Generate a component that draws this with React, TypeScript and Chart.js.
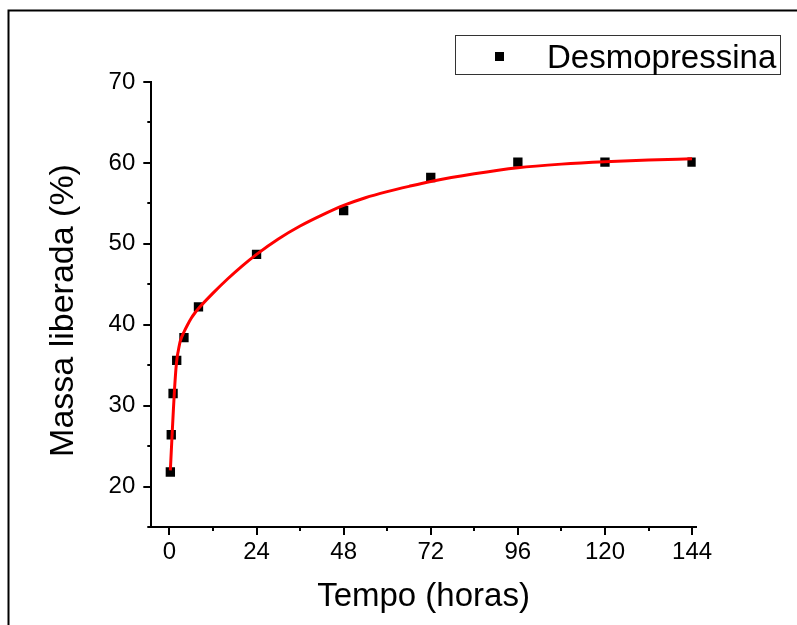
import React, { useEffect, useRef } from "react";
import { Chart, registerables } from "chart.js";

Chart.register(...registerables);

// Release time points (hours) and measured mass released (%)
const tempoHoras = [0.25, 0.5, 1, 2, 4, 8, 24, 48, 72, 96, 120, 144];
const massaLiberada = [21.8, 26.4, 31.5, 35.6, 38.4, 42.2, 48.7, 54.1, 58.2, 60.1, 60.1, 60.1];

// Fitted release curve, sampled along its length
const ajusteX = [0.25, 0.5, 0.8, 1.1, 1.4, 1.8, 2.1, 2.4, 3, 4, 5, 6, 7, 8, 12, 16, 20, 24, 30, 36, 42, 48, 54, 60, 66, 72, 84, 96, 108, 120, 132, 144];
const ajusteY = [22.0, 24.3, 27.0, 29.6, 32.0, 34.6, 35.9, 36.7, 38.0, 39.1, 40.0, 40.8, 41.45, 42.0, 43.9, 45.65, 47.25, 48.7, 50.6, 52.2, 53.55, 54.75, 55.7, 56.45, 57.1, 57.7, 58.65, 59.4, 59.85, 60.15, 60.35, 60.5];

// Axis ticks
const xMinorTicks = [12, 36, 60, 84, 108, 132];
const yMinorTicks = [15, 25, 35, 45, 55, 65];

const serieNome = "Desmopressina";
const tituloX = "Tempo (horas)";
const tituloY = "Massa liberada (%)";

const FONT = "'Liberation Sans', Arial, Helvetica, sans-serif";

const frameAndExtras = {
  id: "frameAndExtras",
  afterDraw(chart: any) {
    const { ctx, scales } = chart;
    const xs = scales.x;
    const ys = scales.y;
    const area = chart.chartArea;
    ctx.save();

    // outer frame (left and top edges)
    ctx.strokeStyle = "#000";
    ctx.lineWidth = 2;
    ctx.beginPath();
    ctx.moveTo(8.5, 800);
    ctx.lineTo(8.5, 10.5);
    ctx.lineTo(900, 10.5);
    ctx.stroke();

    // minor ticks
    ctx.lineWidth = 2;
    ctx.beginPath();
    for (const v of xMinorTicks) {
      const px = Math.round(xs.getPixelForValue(v));
      ctx.moveTo(px, area.bottom);
      ctx.lineTo(px, area.bottom + 4);
    }
    for (const v of yMinorTicks) {
      const py = Math.round(ys.getPixelForValue(v));
      ctx.moveTo(area.left, py);
      ctx.lineTo(area.left - 4, py);
    }
    ctx.stroke();

    // y axis title
    ctx.save();
    ctx.translate(72.5, (area.top + area.bottom) / 2 + 6);
    ctx.rotate(-Math.PI / 2);
    ctx.fillStyle = "#000";
    ctx.font = `34px ${FONT}`;
    ctx.textAlign = "center";
    ctx.textBaseline = "alphabetic";
    ctx.fillText(tituloY, 0, 0);
    ctx.restore();

    // legend
    ctx.lineWidth = 1;
    ctx.strokeStyle = "#333";
    ctx.strokeRect(455.5, 35.5, 325, 39);
    ctx.fillStyle = "#000";
    ctx.fillRect(495, 52, 9, 9);
    ctx.font = `33px ${FONT}`;
    ctx.textBaseline = "alphabetic";
    ctx.textAlign = "left";
    ctx.fillText(serieNome, 547, 68);

    ctx.restore();
  },
};

export default function App() {
  const canvasRef = useRef<HTMLCanvasElement | null>(null);

  useEffect(() => {
    const canvas = canvasRef.current;
    if (!canvas) return;
    const chart = new Chart(canvas, {
      type: "scatter",
      data: {
        datasets: [
          {
            label: "Ajuste",
            data: ajusteX.map((x, i) => ({ x, y: ajusteY[i] })),
            showLine: true,
            borderColor: "#ff0000",
            backgroundColor: "#ff0000",
            borderWidth: 3,
            pointRadius: 0,
            cubicInterpolationMode: "monotone",
            order: 0,
          },
          {
            label: serieNome,
            data: tempoHoras.map((x, i) => ({ x, y: massaLiberada[i] })),
            showLine: false,
            pointStyle: "rect",
            pointRadius: 6.6,
            borderWidth: 0,
            backgroundColor: "#000",
            borderColor: "#000",
            order: 1,
          },
        ],
      },
      options: {
        animation: false,
        responsive: false,
        maintainAspectRatio: false,
        events: [],
        layout: { padding: { top: 82, right: 101.3, bottom: 0, left: 0 } },
        plugins: {
          legend: { display: false },
          tooltip: { enabled: false },
        },
        scales: {
          x: {
            type: "linear",
            min: -5,
            max: 145,
            afterFit: (s: any) => {
              s.height = 98;
            },
            border: { display: true, color: "#000", width: 2 },
            grid: {
              drawOnChartArea: false,
              drawTicks: true,
              tickLength: 8,
              color: "#000",
              lineWidth: 2,
              tickWidth: 2,
              tickColor: "#000",
            },
            ticks: {
              stepSize: 24,
              includeBounds: false,
              padding: 3,
              color: "#000",
              font: { family: FONT, size: 24 },
              maxRotation: 0,
            },
            title: {
              display: true,
              text: tituloX,
              color: "#000",
              font: { family: FONT, size: 33 },
              padding: { top: 0, bottom: 8 },
            },
          },
          y: {
            type: "linear",
            min: 15,
            max: 70,
            afterFit: (s: any) => {
              s.width = 151.3;
            },
            border: { display: true, color: "#000", width: 2 },
            grid: {
              drawOnChartArea: false,
              drawTicks: true,
              tickLength: 8,
              color: "#000",
              lineWidth: 2,
              tickWidth: 2,
              tickColor: "#000",
            },
            ticks: {
              stepSize: 10,
              includeBounds: false,
              padding: 8,
              color: "#000",
              font: { family: FONT, size: 24 },
            },
            title: { display: false },
          },
        },
      },
      plugins: [frameAndExtras],
    });
    return () => chart.destroy();
  }, []);

  return (
    <div style={{ position: "fixed", left: 0, top: 0, width: 797, height: 625, background: "#fff" }}>
      <canvas ref={canvasRef} width={797} height={625} style={{ display: "block", width: 797, height: 625 }} />
    </div>
  );
}
